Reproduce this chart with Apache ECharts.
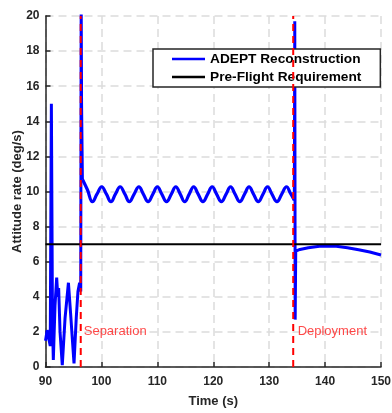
<!DOCTYPE html>
<html>
<head>
<meta charset="utf-8">
<script src="https://cdn.jsdelivr.net/npm/echarts@6/dist/echarts.min.js"></script>
<style>html,body{margin:0;padding:0;background:#fff}#c{width:392px;height:413px}</style>
</head>
<body>
<div id="c"></div>
<script>
// ---- data ----
const xTicks = [90, 100, 110, 120, 130, 140, 150];
const yTicks = [0, 2, 4, 6, 8, 10, 12, 14, 16, 18, 20];

// ADEPT reconstruction, before separation (incl. separation spike)
const preSepTime = [90.0, 90.3, 90.6, 90.85, 91.05, 91.25, 91.4, 91.7, 92.0, 92.2, 92.35, 92.6, 93.0, 93.5, 94.1, 94.5, 95.1, 95.5, 95.8, 96.1, 96.3, 96.38, 96.45, 96.6];
const preSepRate = [1.5, 2.1, 1.6, 1.2, 15.0, 2.5, 0.4, 3.5, 5.1, 4.0, 4.5, 2.0, 0.1, 2.8, 4.8, 3.0, 0.2, 2.8, 4.3, 4.8, 4.3, 21.0, 15.0, 10.7];

// ADEPT reconstruction, coast oscillation (peaks, mid-crossings, troughs)
const coastTime = [96.6, 97.5, 98.4, 99.2, 100.05, 100.9, 101.7, 102.5, 103.35, 104.2, 105.0, 105.85, 106.7, 107.5, 108.35, 109.2, 110.0, 110.8, 111.65, 112.5, 113.3, 114.1, 114.9, 115.7, 116.5, 117.3, 118.15, 119.0, 119.8, 120.6, 121.45, 122.3, 123.1, 123.9, 124.75, 125.6, 126.4, 127.2, 128.05, 128.9, 129.7, 130.5, 131.4, 132.25, 133.1, 133.8, 134.5];
const coastRate = [10.7, 10.1, 9.42, 9.85, 10.27, 9.85, 9.42, 9.85, 10.27, 9.85, 9.42, 9.85, 10.27, 9.85, 9.42, 9.85, 10.27, 9.85, 9.42, 9.85, 10.27, 9.85, 9.42, 9.85, 10.27, 9.85, 9.42, 9.85, 10.27, 9.85, 9.42, 9.85, 10.27, 9.85, 9.42, 9.85, 10.27, 9.85, 9.42, 9.85, 10.27, 9.85, 9.42, 9.85, 10.27, 9.9, 9.5];

// ADEPT reconstruction, deployment and after
const postDepTime = [134.5, 134.58, 134.65, 134.75, 135.5, 137, 139, 140.5, 142, 144, 146, 148, 150];
const postDepRate = [9.5, 19.7, 2.7, 6.6, 6.7, 6.8, 6.88, 6.9, 6.88, 6.8, 6.68, 6.55, 6.38];

// Pre-flight requirement
const reqTime = [90, 150];
const reqRate = [7, 7];

// Events
const eventNames = ['Separation', 'Deployment'];
const eventTime = [96.3, 134.3];
const eventLabelTime = [96.75, 135.0];
const eventLabelRate = [2.05, 2.05];

const zip = (a, b) => a.map((v, i) => [v, b[i]]);

const FONT = '"Liberation Sans", Arial, Helvetica, sans-serif';
const BLUE = '#0000ff';
const DARK = '#262626';

const chart = echarts.init(document.getElementById('c'), null, {renderer: 'canvas'});
const series = [
  {name: 'ADEPT Reconstruction', type: 'line', data: zip(preSepTime, preSepRate), showSymbol: false, symbol: 'none',
   lineStyle: {color: BLUE, width: 3}, itemStyle: {color: BLUE}, clip: true, z: 2},
  {name: 'ADEPT Reconstruction', type: 'line', data: zip(coastTime, coastRate), showSymbol: false, symbol: 'none', smooth: 0.45,
   lineStyle: {color: BLUE, width: 3.2}, itemStyle: {color: BLUE}, clip: true, z: 2},
  {name: 'ADEPT Reconstruction', type: 'line', data: zip(postDepTime, postDepRate), showSymbol: false, symbol: 'none',
   lineStyle: {color: BLUE, width: 3}, itemStyle: {color: BLUE}, clip: true, z: 2},
  {name: 'Pre-Flight Requirement', type: 'line', data: zip(reqTime, reqRate), showSymbol: false, symbol: 'none',
   lineStyle: {color: '#000', width: 2}, itemStyle: {color: '#000'}, z: 3},
];
eventTime.forEach((t, i) => {
  series.push({name: 'ev' + i, type: 'line', data: [[t, 0], [t, 20]], showSymbol: false, symbol: 'none',
    lineStyle: {color: '#ff0000', width: 2, type: [7, 5]}, z: 4, silent: true});
});
series.push({name: 'evLabels', type: 'scatter', symbolSize: 1, itemStyle: {color: 'rgba(0,0,0,0)'},
  data: eventNames.map((n, i) => ({value: [eventLabelTime[i], eventLabelRate[i]], name: n})),
  label: {show: true, position: 'right', distance: 0, formatter: p => p.name, color: '#ff1a1a', fontSize: 13, fontFamily: FONT},
  z: 5, silent: true});

chart.setOption({
  animation: false,
  backgroundColor: '#fff',
  grid: {left: 45.5, right: 11, top: 16, bottom: 46, containLabel: false, outerBoundsMode: 'none'},
  xAxis: {
    type: 'value', min: 90, max: 150, interval: 10,
    name: 'Time (s)', nameLocation: 'middle', nameGap: 28, nameMoveOverlap: false,
    nameTextStyle: {fontFamily: FONT, fontWeight: 'bold', fontSize: 13, color: DARK},
    axisLine: {lineStyle: {color: DARK, width: 1.5}},
    axisTick: {inside: true, length: 5, lineStyle: {color: DARK, width: 1.5}},
    axisLabel: {fontFamily: FONT, fontWeight: 'bold', fontSize: 12, color: DARK, margin: 9,
      formatter: v => xTicks.includes(v) ? String(v) : ''},
    splitLine: {show: true, lineStyle: {color: '#dcdcdc', width: 1.5, type: [8, 5]}}
  },
  yAxis: {
    type: 'value', min: 0, max: 20, interval: 2,
    name: 'Attitude rate (deg/s)', nameLocation: 'middle', nameGap: 22, nameMoveOverlap: false,
    nameTextStyle: {fontFamily: FONT, fontWeight: 'bold', fontSize: 13, color: DARK},
    axisLine: {show: true, lineStyle: {color: DARK, width: 1.5}},
    axisTick: {show: true, inside: true, length: 5, lineStyle: {color: DARK, width: 1.5}},
    axisLabel: {fontFamily: FONT, fontWeight: 'bold', fontSize: 12, color: DARK, margin: 6,
      formatter: v => yTicks.includes(v) ? String(v) : ''},
    splitLine: {show: true, lineStyle: {color: '#dcdcdc', width: 1.5, type: [8, 5]}}
  },
  legend: {
    data: [{name: 'ADEPT Reconstruction', icon: 'rect'}, {name: 'Pre-Flight Requirement', icon: 'rect'}],
    orient: 'vertical', left: 153, top: 49,
    padding: [3, 19, 3, 19],
    itemWidth: 33, itemHeight: 2.5, itemGap: 4,
    backgroundColor: '#fff', borderColor: DARK, borderWidth: 1.5,
    textStyle: {fontFamily: FONT, fontWeight: 'bold', fontSize: 13.7, color: '#000', lineHeight: 14},
    selectedMode: false
  },
  series: series
});
</script>
</body>
</html>
